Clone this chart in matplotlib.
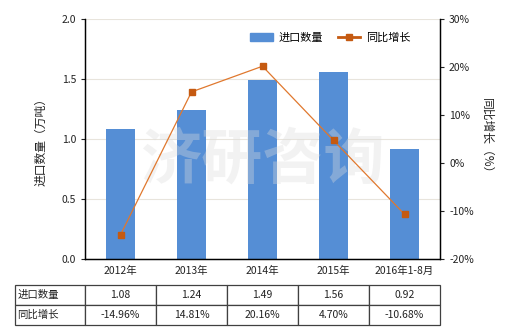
import matplotlib
matplotlib.use("Agg")
import matplotlib.pyplot as plt
from matplotlib.patches import Patch
from matplotlib.lines import Line2D
from matplotlib.ticker import FuncFormatter, MultipleLocator

plt.rcParams['font.family'] = ['Noto Sans CJK SC', 'DejaVu Sans']

categories = ["2012年", "2013年", "2014年", "2015年", "2016年1-8月"]
import_qty = [1.08, 1.24, 1.49, 1.56, 0.92]
yoy_growth = [-14.96, 14.81, 20.16, 4.70, -10.68]
qty_labels = ["1.08", "1.24", "1.49", "1.56", "0.92"]
growth_labels = ["-14.96%", "14.81%", "20.16%", "4.70%", "-10.68%"]
series_names = ["进口数量", "同比增长"]

bar_color = "#558ED5"
line_color = "#E0782E"
marker_color = "#C55A11"
text_color = "#222222"

fig = plt.figure(figsize=(5.2, 3.3), dpi=100)
ax = fig.add_axes([85/520, 1-259/330, 355/520, 240/330])
ax2 = ax.twinx()

x = list(range(len(categories)))
ax.bar(x, import_qty, width=0.4, color=bar_color, zorder=2)
ax.set_xlim(-0.5, len(categories) - 0.5)
ax.set_ylim(0, 2.0)
ax.yaxis.set_major_locator(MultipleLocator(0.5))
ax.yaxis.set_major_formatter(FuncFormatter(lambda v, p: f"{v:.1f}"))
ax.grid(axis='y', color='#E8E4DC', linewidth=0.8, zorder=0)
ax.set_axisbelow(True)
ax.set_xticks(x)
ax.set_xticklabels(categories, fontsize=7.5, color=text_color)
ax.tick_params(axis='x', length=0, pad=5)
ax.tick_params(axis='y', labelsize=7.5, length=3, colors=text_color, direction='out')
ax.set_ylabel("进口数量（万吨）", fontsize=8.5, color=text_color, labelpad=10)

ax2.plot(x, yoy_growth, color=line_color, linewidth=0.9, marker='s', markersize=4,
         markerfacecolor=marker_color, markeredgecolor=marker_color, zorder=3)
ax2.set_ylim(-20, 30)
ax2.yaxis.set_major_locator(MultipleLocator(10))
ax2.yaxis.set_major_formatter(FuncFormatter(lambda v, p: f"{v:.0f}%"))
ax2.tick_params(axis='y', labelsize=7.5, length=3, colors=text_color, direction='out')
ax2.set_ylabel("同比增长（%）", fontsize=8.5, color=text_color, rotation=270, labelpad=14)

for a in (ax, ax2):
    a.spines['top'].set_visible(False)
    for s in ('left', 'right', 'bottom'):
        a.spines[s].set_color('#000000')
        a.spines[s].set_linewidth(0.9)

handles = [Patch(color=bar_color),
           Line2D([0], [0], color=marker_color, linewidth=2, marker='s', markersize=4,
                  markerfacecolor=marker_color)]
ax2.legend(handles, series_names, loc='upper right', bbox_to_anchor=(0.945, 0.985), ncol=2,
           frameon=False, fontsize=8, handlelength=2.0, columnspacing=1.4, handletextpad=0.5)

# watermark
ax.text(0.5, 0.41, "济研咨询", transform=ax.transAxes, fontsize=44, fontweight='bold',
        color='#DCDCDC', alpha=0.35, ha='center', va='center', zorder=5)

# data table
label_w = 70 / 355
col_w = 1 / len(categories)
cell_text = [[series_names[0]] + qty_labels, [series_names[1]] + growth_labels]
tbl = ax.table(cellText=cell_text, colWidths=[label_w] + [col_w] * len(categories),
               cellLoc='center', bbox=[-label_w, -(325-259)/240, 1 + label_w, 40/240])
tbl.auto_set_font_size(False)
tbl.set_fontsize(7.5)
for (r, c), cell in tbl.get_celld().items():
    cell.set_edgecolor('#404040')
    cell.set_linewidth(0.9)
    cell.get_text().set_color(text_color)
    if c == 0:
        cell._loc = 'left'
        cell.PAD = 0.03
        cell.get_text().set_ha('left')

fig.savefig("out.png", dpi=100)
